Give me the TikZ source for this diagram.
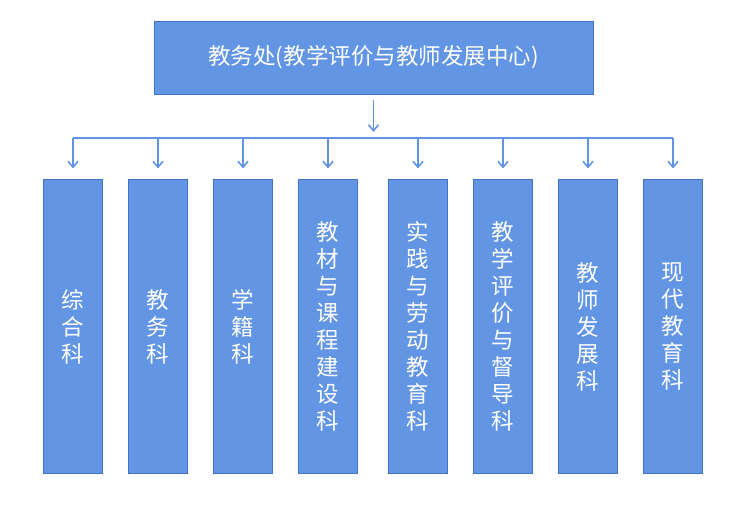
\documentclass[tikz,border=0pt]{standalone}
\usepackage{fontspec}
\newfontfamily\cjk{Noto Sans CJK SC}
\usetikzlibrary{arrows.meta,positioning}
\definecolor{boxblue}{RGB}{98,149,228}
\definecolor{edgeblue}{RGB}{66,114,196}
\definecolor{lineblue}{RGB}{96,147,226}

\begin{document}
\begin{tikzpicture}[
  x=1pt, y=-1pt,
  every node/.style={rectangle, draw=edgeblue, fill=boxblue, line width=0.9pt, text=white, align=center, inner sep=0pt, outer sep=0pt},
  head/.style={minimum width=439pt, minimum height=73pt, font=\cjk\fontsize{22.5}{26}\selectfont},
  dept/.style={minimum width=59.5pt, minimum height=294pt, font=\cjk\fontsize{22.5}{27}\selectfont},
  link/.style={draw=lineblue, line width=1.6pt, -{Straight Barb[length=6pt,width=10pt]}},
  node distance=25.5pt
]
\useasboundingbox (0,0) rectangle (739,510);

% Nivel 1
\node[head] (jiaowuchu) at (373.5,57.5) {教务处(教学评价与教师发展中心)};

% Nivel 2
\node[dept] (zonghe) at (73,326.5) {综\\合\\科};
\node[dept, right=of zonghe] (jiaowu) {教\\务\\科};
\node[dept, right=of jiaowu] (xueji) {学\\籍\\科};
\node[dept, right=of xueji] (jiaocai) {教\\材\\与\\课\\程\\建\\设\\科};
\node[dept, right=30.5pt of jiaocai] (shijian) {实\\践\\与\\劳\\动\\教\\育\\科};
\node[dept, right=of shijian] (pingjia) {教\\学\\评\\价\\与\\督\\导\\科};
\node[dept, right=of pingjia] (jiaoshi) {教\\师\\发\\展\\科};
\node[dept, right=of jiaoshi] (xiandai) {现\\代\\教\\育\\科};

% Conexiones
\coordinate (bus) at (374,138);
\draw[link, shorten <=6pt, shorten >=6pt] (jiaowuchu) -- (jiaowuchu |- bus);
\draw[link, -] (zonghe |- bus) -- (xiandai |- bus);

\draw[link, shorten >=11pt] (zonghe |- bus) -- (zonghe.north);
\draw[link, shorten >=11pt] (jiaowu |- bus) -- (jiaowu.north);
\draw[link, shorten >=11pt] (xueji |- bus) -- (xueji.north);
\draw[link, shorten >=11pt] (jiaocai |- bus) -- (jiaocai.north);
\draw[link, shorten >=11pt] (shijian |- bus) -- (shijian.north);
\draw[link, shorten >=11pt] (pingjia |- bus) -- (pingjia.north);
\draw[link, shorten >=11pt] (jiaoshi |- bus) -- (jiaoshi.north);
\draw[link, shorten >=11pt] (xiandai |- bus) -- (xiandai.north);

\end{tikzpicture}
\end{document}
